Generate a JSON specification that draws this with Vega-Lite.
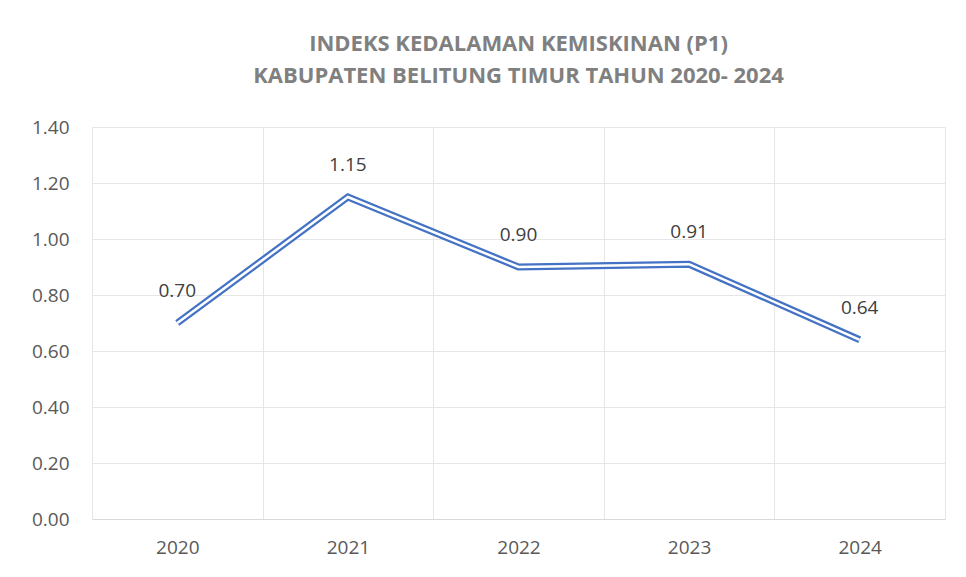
{
  "$schema": "https://vega.github.io/schema/vega-lite/v6.json",
  "autosize": "none",
  "width": 853,
  "height": 392,
  "padding": {"left": 92, "top": 127, "right": 21, "bottom": 58},
  "background": "white",
  "title": {
    "text": ["INDEKS KEDALAMAN KEMISKINAN (P1)", "KABUPATEN BELITUNG TIMUR TAHUN 2020- 2024"],
    "anchor": "middle",
    "font": "Open Sans",
    "fontSize": 22,
    "fontWeight": "bold",
    "color": "#808080",
    "lineHeight": 32,
    "offset": 30
  },
  "data": {
    "values": [
      {"tahun": "2020", "p1": 0.70},
      {"tahun": "2021", "p1": 1.15},
      {"tahun": "2022", "p1": 0.90},
      {"tahun": "2023", "p1": 0.91},
      {"tahun": "2024", "p1": 0.64}
    ]
  },
  "config": {
    "view": {"stroke": null},
    "font": "Open Sans"
  },
  "encoding": {
    "x": {
      "field": "tahun",
      "type": "ordinal",
      "scale": {"paddingInner": 0, "paddingOuter": 0},
      "axis": {
        "title": null,
        "labelAngle": 0,
        "labelFont": "Open Sans",
        "labelFontSize": 19,
        "labelColor": "#595959",
        "labelPadding": 19,
        "ticks": false,
        "tickBand": "extent",
        "grid": true,
        "gridColor": "#e6e6e6",
        "domainColor": "#d9d9d9"
      }
    },
    "y": {
      "field": "p1",
      "type": "quantitative",
      "scale": {"domain": [0, 1.4], "nice": false},
      "axis": {
        "title": null,
        "values": [0, 0.2, 0.4, 0.6, 0.8, 1.0, 1.2, 1.4],
        "format": ".2f",
        "labelFont": "Open Sans",
        "labelFontSize": 19,
        "labelColor": "#595959",
        "labelPadding": 23,
        "ticks": false,
        "domain": false,
        "grid": true,
        "gridColor": "#e6e6e6"
      }
    }
  },
  "layer": [
    {
      "mark": {"type": "line", "color": "#4472C4", "strokeWidth": 7, "strokeJoin": "miter", "strokeCap": "butt"}
    },
    {
      "mark": {"type": "line", "color": "white", "strokeWidth": 2.5, "strokeJoin": "miter", "strokeCap": "butt"}
    },
    {
      "mark": {"type": "text", "dy": -32, "fontSize": 19, "font": "Open Sans", "color": "#404040"},
      "encoding": {"text": {"field": "p1", "type": "quantitative", "format": ".2f"}}
    }
  ]
}
